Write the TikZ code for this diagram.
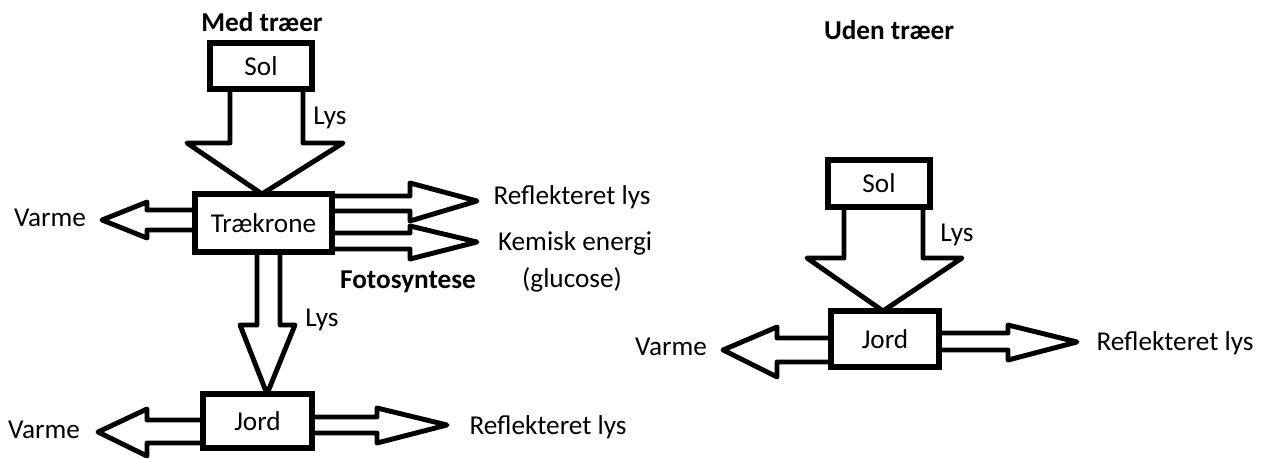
\documentclass[tikz,border=0pt]{standalone}
\usepackage{fontspec}
\setmainfont{Carlito}
\begin{document}
\begin{tikzpicture}[x=0.02cm,y=-0.02cm,
  box/.style={draw=black,line width=3pt,outer sep=0pt,inner sep=0pt,fill=white,font=\fontsize{15.5}{18}\selectfont},
  blk/.style={draw=black,line width=2.8pt,line join=round},
  lbl/.style={font=\fontsize{15.5}{18}\selectfont,inner sep=0pt},
  ttl/.style={font=\fontsize{15.5}{18}\selectfont\bfseries,inner sep=0pt}]
\useasboundingbox (0,0) rectangle (1263,459);
% ---------- left: Med traeer ----------
\node[ttl] (t1) at (262,22) {Med træer};
\node[box,minimum width=2.04cm,minimum height=0.92cm] (sol1) at (261,66) {Sol};
\node[box,minimum width=2.74cm,minimum height=1.16cm] (trae) at (263.5,223) {Trækrone};
\node[box,minimum width=2.18cm,minimum height=1.08cm] (jord1) at (257.5,421) {Jord};
% arrows
\draw[blk] (sol1.south -| 230,0) -- (230,143) -- (187,143) -- (trae.north -| 262,0) -- (343,143) -- (303,143) -- (sol1.south -| 303,0);
\draw[blk] (trae.west |- 0,210) -- (147,210) -- (147,202) -- (102,220) -- (147,238) -- (147,230) -- (trae.west |- 0,230);
\draw[blk] (trae.east |- 0,196) -- (410,196) -- (410,183) -- (477,201) -- (410,221) -- (410,211) -- (trae.east |- 0,211);
\draw[blk] (trae.east |- 0,233) -- (410,233) -- (410,226) -- (477,242) -- (410,259) -- (410,249) -- (trae.east |- 0,249);
\draw[blk] (trae.south -| 257,0) -- (257,325) -- (240,325) -- (jord1.north -| 267,0) -- (295,325) -- (280,325) -- (trae.south -| 280,0);
\draw[blk] (jord1.west |- 0,420) -- (147,420) -- (147,409) -- (98,432) -- (147,456) -- (147,443) -- (jord1.west |- 0,443);
\draw[blk] (jord1.east |- 0,417) -- (377,417) -- (377,408) -- (447,425) -- (377,443) -- (377,433) -- (jord1.east |- 0,433);
% labels
\node[lbl] (l1) at (330,118) {Lys};
\node[lbl] (v1) at (50,218) {Varme};
\node[lbl] (r1) at (572,197) {Reflekteret lys};
\node[lbl] (k1) at (575,243) {Kemisk energi};
\node[lbl] (g1) at (572,280) {(glucose)};
\node[ttl] (f1) at (408,282) {Fotosyntese};
\node[lbl] (l2) at (322,320) {Lys};
\node[lbl] (v2) at (44,430) {Varme};
\node[lbl] (r2) at (548,427) {Reflekteret lys};
% ---------- right: Uden traeer ----------
\node[ttl] (t2) at (889,30) {Uden træer};
\node[box,minimum width=2.04cm,minimum height=0.94cm] (sol2) at (879,183.5) {Sol};
\node[box,minimum width=2.16cm,minimum height=1.12cm] (jord2) at (885,339) {Jord};
\draw[blk] (sol2.south -| 844,0) -- (844,258) -- (807,258) -- (jord2.north -| 883,0) -- (962,258) -- (923,258) -- (sol2.south -| 923,0);
\draw[blk] (jord2.west |- 0,338) -- (777,338) -- (777,327) -- (723,350) -- (777,377) -- (777,362) -- (jord2.west |- 0,362);
\draw[blk] (jord2.east |- 0,333) -- (1008,333) -- (1008,325) -- (1077,342) -- (1008,360) -- (1008,350) -- (jord2.east |- 0,350);
\node[lbl] (l3) at (957,235) {Lys};
\node[lbl] (v3) at (671,347) {Varme};
\node[lbl] (r3) at (1175,343) {Reflekteret lys};
\end{tikzpicture}
\end{document}
